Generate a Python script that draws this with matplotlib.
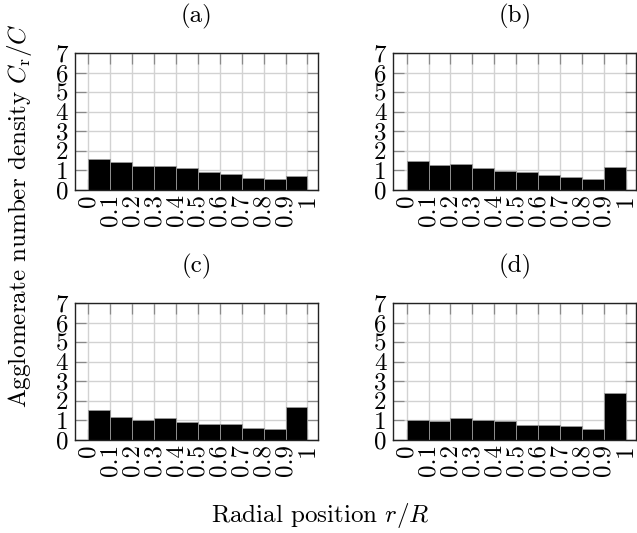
import matplotlib
matplotlib.use("Agg")
import matplotlib.pyplot as plt
import numpy as np

plt.rcParams['font.family'] = 'serif'
plt.rcParams['font.serif'] = ['cmr10']
plt.rcParams['mathtext.fontset'] = 'cm'
plt.rcParams['axes.unicode_minus'] = False
plt.rcParams['axes.formatter.use_mathtext'] = True

bin_edges = [0.0, 0.1, 0.2, 0.3, 0.4, 0.5, 0.6, 0.7, 0.8, 0.9]
tick_labels = ["0", "0.1", "0.2", "0.3", "0.4", "0.5", "0.6", "0.7", "0.8", "0.9", "1"]
tick_pos = [0.0, 0.1, 0.2, 0.3, 0.4, 0.5, 0.6, 0.7, 0.8, 0.9, 1.0]
y_ticks = [0, 1, 2, 3, 4, 5, 6, 7]

dens_a = [1.59, 1.45, 1.25, 1.23, 1.14, 0.90, 0.84, 0.63, 0.55, 0.73]
dens_b = [1.49, 1.30, 1.31, 1.13, 0.99, 0.92, 0.77, 0.67, 0.56, 1.17]
dens_c = [1.54, 1.18, 1.04, 1.11, 0.90, 0.84, 0.84, 0.63, 0.56, 1.71]
dens_d = [1.02, 0.99, 1.13, 1.02, 0.99, 0.75, 0.77, 0.70, 0.58, 2.42]

panels = [("(a)", dens_a), ("(b)", dens_b), ("(c)", dens_c), ("(d)", dens_d)]

W, H = 637, 533
fig = plt.figure(figsize=(W / 100, H / 100), dpi=100)

lefts = [75, 393.3, 75, 393.3]
tops = [53, 53, 303, 303]
aw, ah = 243, 137
FS = 18

for (title, vals), l, t in zip(panels, lefts, tops):
    ax = fig.add_axes([l / W, 1 - (t + ah) / H, aw / W, ah / H])
    ax.bar(bin_edges, vals, width=0.1, align='edge', color='black',
           edgecolor='#9a9a9a', linewidth=0.6, zorder=3)
    ax.set_xlim(-0.061, 1.048)
    ax.set_ylim(0, 7)
    ax.set_xticks(tick_pos)
    ax.set_xticklabels(tick_labels, rotation=90, fontsize=FS)
    ax.set_yticks(y_ticks)
    ax.set_yticklabels([str(v) for v in y_ticks], fontsize=FS)
    ax.grid(True, color='#d2d2d2', linewidth=1.0, zorder=0)
    ax.set_axisbelow(True)
    ax.tick_params(direction='in', length=8, width=0.9, color='#8a8a8a',
                   top=True, right=True, pad=3)
    ax.tick_params(axis='y', pad=5)
    for sp in ax.spines.values():
        sp.set_color('#222222')
        sp.set_linewidth(1.0)
        sp.set_zorder(4)
    cx = l + aw / 2
    fig.text(cx / W, 1 - (t - 37) / H, title, ha='center', va='center', fontsize=FS)

fig.text(20 / W, 1 - 216 / H, r"Agglomerate number density $C_{\mathrm{r}}/C$",
         rotation=90, ha='center', va='center', fontsize=FS)
fig.text(320 / W, 1 - 515 / H, r"Radial position $r/R$",
         ha='center', va='center', fontsize=FS)

fig.savefig("out.png", dpi=100)
